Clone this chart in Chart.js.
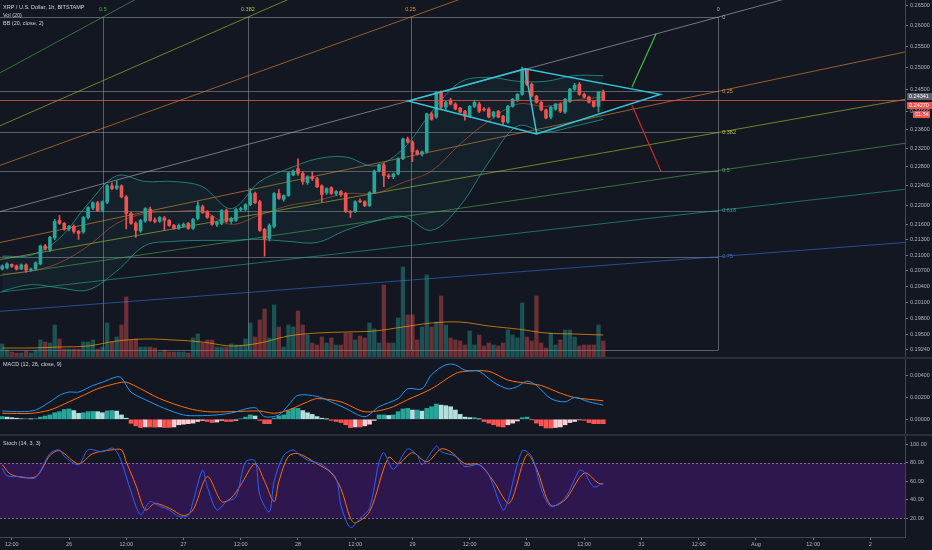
<!DOCTYPE html>
<html>
<head>
<meta charset="utf-8">
<script src="https://cdn.jsdelivr.net/npm/chart.js@4.4.0/dist/chart.umd.min.js"></script>
<style>
  html, body { margin: 0; padding: 0; background: #131722; }
  #wrap { position: relative; width: 932px; height: 550px; overflow: hidden; background: #131722; }
  #wrap canvas { position: absolute; left: 0; }
  .sep { position: absolute; left: 0; width: 932px; height: 2px; background: #2a2e39; }
</style>
</head>
<body>
<div id="wrap">
  <canvas id="priceChart" width="932" height="357" style="top:0"></canvas>
  <div class="sep" style="top:357px"></div>
  <canvas id="macdChart" width="932" height="75" style="top:359px"></canvas>
  <div class="sep" style="top:434px"></div>
  <canvas id="stochChart" width="932" height="114" style="top:436px"></canvas>
</div>
<script>
// hours are counted from Jul 26 00:00, one candle per hour
const firstHour = -14;

const opens = [0.2073, 0.2075, 0.2082, 0.2079, 0.2073, 0.2081, 0.2071, 0.2073, 0.2083, 0.2118,
  0.2111, 0.2134, 0.2169, 0.2163, 0.2152, 0.2157, 0.2147, 0.2146, 0.2175, 0.2194,
  0.2205, 0.2190, 0.2206, 0.2240, 0.2235, 0.2240, 0.2217, 0.2183, 0.2163, 0.2148,
  0.2168, 0.2192, 0.2170, 0.2167, 0.2174, 0.2169, 0.2159, 0.2153, 0.2157, 0.2163,
  0.2153, 0.2173, 0.2197, 0.2187, 0.2177, 0.2161, 0.2163, 0.2189, 0.2167, 0.2169,
  0.2191, 0.2191, 0.2201, 0.2224, 0.2207, 0.2151, 0.2133, 0.2157, 0.2224, 0.2212,
  0.2220, 0.2263, 0.2276, 0.2266, 0.2247, 0.2259, 0.2255, 0.2240, 0.2226, 0.2236,
  0.2224, 0.2228, 0.2224, 0.2187, 0.2187, 0.2209, 0.2207, 0.2199, 0.2226, 0.2271,
  0.2284, 0.2261, 0.2259, 0.2265, 0.2297, 0.2340, 0.2333, 0.2314, 0.2307, 0.2312,
  0.2395, 0.2388, 0.2444, 0.2410, 0.2426, 0.2417, 0.2408, 0.2401, 0.2390, 0.2412,
  0.2417, 0.2406, 0.2406, 0.2390, 0.2401, 0.2390, 0.2377, 0.2412, 0.2426, 0.2439,
  0.2494, 0.2462, 0.2435, 0.2421, 0.2404, 0.2388, 0.2406, 0.2417, 0.2399, 0.2423,
  0.2451, 0.2462, 0.2439, 0.2433, 0.2423, 0.2412, 0.2444];
const highs = [0.2081, 0.2085, 0.2083, 0.2081, 0.2083, 0.2083, 0.2075, 0.2087, 0.2120, 0.2121,
  0.2137, 0.2171, 0.2179, 0.2165, 0.2159, 0.2160, 0.2149, 0.2177, 0.2197, 0.2207,
  0.2208, 0.2209, 0.2243, 0.2246, 0.2251, 0.2242, 0.2220, 0.2186, 0.2166, 0.2171,
  0.2195, 0.2196, 0.2174, 0.2177, 0.2177, 0.2171, 0.2161, 0.2162, 0.2164, 0.2165,
  0.2173, 0.2207, 0.2200, 0.2189, 0.2179, 0.2167, 0.2191, 0.2192, 0.2175, 0.2193,
  0.2196, 0.2203, 0.2234, 0.2227, 0.2210, 0.2153, 0.2162, 0.2226, 0.2232, 0.2221,
  0.2269, 0.2273, 0.2297, 0.2270, 0.2261, 0.2269, 0.2258, 0.2242, 0.2236, 0.2238,
  0.2230, 0.2230, 0.2226, 0.2189, 0.2209, 0.2213, 0.2209, 0.2228, 0.2273, 0.2286,
  0.2288, 0.2265, 0.2267, 0.2299, 0.2342, 0.2344, 0.2336, 0.2316, 0.2314, 0.2397,
  0.2399, 0.2446, 0.2447, 0.2423, 0.2430, 0.2420, 0.2410, 0.2403, 0.2414, 0.2426,
  0.2421, 0.2409, 0.2409, 0.2401, 0.2403, 0.2392, 0.2414, 0.2430, 0.2441, 0.2502,
  0.2497, 0.2465, 0.2437, 0.2423, 0.2406, 0.2412, 0.2419, 0.2420, 0.2430, 0.2453,
  0.2464, 0.2466, 0.2442, 0.2435, 0.2425, 0.2446, 0.2449];
const lows = [0.2071, 0.2073, 0.2076, 0.2071, 0.2072, 0.2067, 0.2069, 0.2071, 0.2081, 0.2110,
  0.2107, 0.2130, 0.2161, 0.2149, 0.2148, 0.2143, 0.2131, 0.2143, 0.2172, 0.2191,
  0.2187, 0.2187, 0.2203, 0.2232, 0.2232, 0.2215, 0.2152, 0.2161, 0.2135, 0.2145,
  0.2165, 0.2167, 0.2164, 0.2165, 0.2149, 0.2157, 0.2151, 0.2151, 0.2155, 0.2151,
  0.2151, 0.2170, 0.2183, 0.2173, 0.2159, 0.2157, 0.2160, 0.2165, 0.2163, 0.2167,
  0.2188, 0.2189, 0.2199, 0.2203, 0.2147, 0.2098, 0.2128, 0.2154, 0.2212, 0.2208,
  0.2218, 0.2261, 0.2262, 0.2243, 0.2243, 0.2251, 0.2236, 0.2207, 0.2222, 0.2222,
  0.2220, 0.2218, 0.2185, 0.2175, 0.2185, 0.2205, 0.2197, 0.2197, 0.2224, 0.2269,
  0.2238, 0.2255, 0.2255, 0.2263, 0.2295, 0.2331, 0.2291, 0.2305, 0.2303, 0.2309,
  0.2381, 0.2385, 0.2407, 0.2405, 0.2415, 0.2404, 0.2397, 0.2381, 0.2387, 0.2409,
  0.2398, 0.2401, 0.2386, 0.2386, 0.2386, 0.2372, 0.2374, 0.2410, 0.2423, 0.2437,
  0.2459, 0.2433, 0.2419, 0.2402, 0.2384, 0.2384, 0.2403, 0.2398, 0.2396, 0.2421,
  0.2448, 0.2437, 0.2431, 0.2419, 0.2410, 0.2399, 0.2425];
const closes = [0.2079, 0.2083, 0.2078, 0.2073, 0.2081, 0.2071, 0.2073, 0.2085, 0.2118, 0.2112,
  0.2135, 0.2167, 0.2163, 0.2151, 0.2157, 0.2147, 0.2143, 0.2175, 0.2195, 0.2205,
  0.2189, 0.2207, 0.2240, 0.2234, 0.2240, 0.2217, 0.2183, 0.2163, 0.2149, 0.2169,
  0.2193, 0.2169, 0.2167, 0.2175, 0.2169, 0.2159, 0.2153, 0.2159, 0.2161, 0.2153,
  0.2171, 0.2199, 0.2185, 0.2175, 0.2161, 0.2165, 0.2189, 0.2167, 0.2173, 0.2191,
  0.2193, 0.2201, 0.2224, 0.2205, 0.2149, 0.2131, 0.2159, 0.2224, 0.2214, 0.2220,
  0.2267, 0.2271, 0.2266, 0.2249, 0.2259, 0.2255, 0.2238, 0.2222, 0.2234, 0.2224,
  0.2228, 0.2222, 0.2187, 0.2185, 0.2207, 0.2207, 0.2199, 0.2226, 0.2271, 0.2284,
  0.2261, 0.2259, 0.2265, 0.2297, 0.2340, 0.2333, 0.2312, 0.2307, 0.2312, 0.2395,
  0.2383, 0.2444, 0.2410, 0.2421, 0.2417, 0.2406, 0.2399, 0.2390, 0.2412, 0.2421,
  0.2401, 0.2404, 0.2388, 0.2399, 0.2388, 0.2377, 0.2412, 0.2428, 0.2439, 0.2496,
  0.2462, 0.2435, 0.2421, 0.2404, 0.2386, 0.2410, 0.2417, 0.2401, 0.2428, 0.2451,
  0.2460, 0.2439, 0.2433, 0.2421, 0.2412, 0.2444, 0.2427];
const volumes = [1.3, 0.7, 0.5, 0.4, 0.4, 0.6, 0.4, 0.7, 1.7, 1.5,
  1.4, 3.2, 1.8, 0.8, 0.8, 0.8, 0.8, 1.5, 1.5, 1.7,
  0.8, 1.0, 3.4, 1.5, 2.0, 3.2, 6.0, 1.7, 1.8, 1.0,
  1.0, 1.0, 0.9, 0.5, 0.7, 0.5, 0.5, 0.5, 0.5, 0.4,
  1.9, 2.3, 1.4, 1.7, 1.7, 1.0, 1.0, 1.0, 1.3, 1.2,
  1.2, 1.8, 3.4, 2.0, 3.7, 4.8, 1.9, 5.2, 3.0, 1.0,
  3.2, 3.0, 4.6, 3.2, 2.2, 1.4, 1.2, 2.0, 1.4, 1.9,
  1.2, 1.2, 2.4, 2.4, 1.7, 2.1, 1.9, 3.4, 2.8, 1.4,
  7.2, 1.4, 1.4, 3.9, 9.0, 4.2, 4.2, 1.7, 3.0, 8.2,
  3.0, 3.5, 6.1, 3.2, 1.9, 1.7, 1.6, 1.2, 2.6, 1.2,
  2.2, 1.1, 1.4, 1.2, 1.1, 1.4, 2.7, 2.2, 1.9, 5.4,
  2.0, 1.6, 6.1, 1.4, 0.9, 2.4, 1.2, 1.7, 2.7, 2.7,
  2.0, 1.1, 1.2, 1.2, 1.2, 3.2, 1.6];
const macdHist = [0.00025, 0.0002, 0.00015, 0.0001, 0.00005, 0.00005, 0.00003, 0.00005, 0.0002, 0.0003,
  0.0004, 0.0006, 0.0007, 0.0009, 0.00095, 0.0008, 0.00055, 0.0006, 0.0007, 0.00072,
  0.0007, 0.0006, 0.00077, 0.0008, 0.00075, 0.0004, 0.0001, -0.00037, -0.0006, -0.00076,
  -0.0007, -0.0007, -0.00072, -0.0007, -0.00075, -0.00075, -0.0007, -0.0005, -0.00045, -0.0004,
  -0.00035, -0.0002, -0.0001, -0.0002, -0.0003, -0.00025, -0.0001, -0.0002, -0.0002, -0.0001,
  0.00005, 0.0002, 0.0004, 0.0003, -0.0001, -0.0004, -0.0004, 0.0001, 0.0003, 0.0004,
  0.0008, 0.001, 0.001, 0.0008, 0.0006, 0.00045, 0.00025, 0.0001, 0.00002, -0.0001,
  -0.0002, -0.0003, -0.0005, -0.00076, -0.0007, -0.0007, -0.0006, -0.00045, -0.0001, 0.0004,
  0.0004, 0.00035, 0.0004, 0.0007, 0.00095, 0.001, 0.00085, 0.00085, 0.00075, 0.001,
  0.00115, 0.0014, 0.0013, 0.00125, 0.00115, 0.00085, 0.00045, 0.0002, 0.00015, 0.00015,
  0.00003, -0.0002, -0.00035, -0.0005, -0.00065, -0.0007, -0.0005, -0.00035, -0.00015, 0.00015,
  0.0002, -0.00002, -0.00035, -0.0006, -0.0008, -0.0008, -0.00075, -0.0007, -0.0005, -0.0003,
  -0.0002, -0.00005, -0.0001, -0.0003, -0.0004, -0.0004, -0.0004];

// Bollinger bands (20, close, 2) and volume MA, read every 6 hours
const bandHours = [-14, -8, -2, 4, 10, 16, 22, 28, 34, 40, 46, 52, 58, 64, 70, 76, 82, 88, 94, 100, 106, 112];
const bbUpper = [0.2098, 0.2100, 0.2133, 0.2203, 0.2261, 0.2249, 0.2249, 0.2238, 0.2193, 0.2249, 0.2276,
  0.2297, 0.2301, 0.2282, 0.2318, 0.2399, 0.2467, 0.2478, 0.2469, 0.2469, 0.2482, 0.2482];
const bbBasis = [0.2063, 0.2069, 0.2085, 0.2118, 0.2163, 0.2183, 0.2187, 0.2187, 0.2161, 0.2180, 0.2199,
  0.2209, 0.2224, 0.2224, 0.2247, 0.2271, 0.2329, 0.2379, 0.2417, 0.2412, 0.2426, 0.2433];
const bbLower = [0.2031, 0.2043, 0.2037, 0.2033, 0.2069, 0.2119, 0.2127, 0.2129, 0.2129, 0.2131, 0.2127,
  0.2125, 0.2149, 0.2167, 0.2177, 0.2149, 0.2199, 0.2290, 0.2368, 0.2355, 0.2368, 0.2383];
const volMa = [0.9, 0.9, 1.0, 1.1, 1.6, 1.8, 1.7, 1.5, 1.1, 1.4, 2.1, 2.4, 2.5, 2.6, 3.0, 3.4, 3.5, 3.1, 2.8, 2.4, 2.3, 2.2];

// MACD (12, 26, close, 9)
const macdHours = [-14, -10, -7, -4, -2, 0, 2, 5, 7, 10, 11, 13, 16, 20, 24, 27, 31, 34, 39, 41,
  44, 46, 48, 52, 55, 58, 62, 65, 69, 71, 74, 76, 79, 81, 83, 86, 89, 92, 94, 96, 98, 101, 104, 106, 109, 112];
const macdLine = [0.00076, 0.0007, 0.00085, 0.0016, 0.0022, 0.0025, 0.0025, 0.0031, 0.0034, 0.0039,
  0.0038, 0.0025, 0.0018, 0.001, 0.0004, 0.00033, 0.0004, 0.00058, 0.00106, 0.00024,
  0.0004, 0.0013, 0.0022, 0.0021, 0.0016, 0.001, 0.00024, 0.00116, 0.0019, 0.0028,
  0.0028, 0.0041, 0.005, 0.005, 0.0045, 0.0044, 0.0034, 0.0028, 0.003, 0.0035,
  0.0031, 0.0019, 0.0016, 0.002, 0.0016, 0.0013];
const signalHours = [-14, -8, -4, 0, 3, 6, 10, 12, 15, 19, 25, 29, 34, 40, 43, 46, 50, 52, 57, 62,
  67, 71, 76, 81, 83, 88, 92, 96, 99, 103, 106, 112];
const signalLine = [0.00055, 0.00055, 0.00085, 0.0016, 0.0022, 0.0028, 0.0033, 0.0034, 0.0028, 0.0019,
  0.001, 0.0007, 0.0007, 0.00076, 0.00055, 0.00085, 0.0016, 0.0019, 0.0016, 0.0007,
  0.001, 0.0018, 0.0028, 0.0042, 0.0044, 0.0044, 0.0036, 0.0033, 0.0031, 0.0024, 0.002, 0.0017];

// Stoch (14, 3, 3)
const kHours = [-14, -13, -10, -7, -4, -2, -1, 2, 4, 7, 9, 10, 11, 13, 15, 17, 19, 21, 23, 25,
  26, 28, 29, 31, 33, 35, 37, 39, 40, 42, 43, 45, 47, 48, 50, 53, 56, 57, 59, 61,
  63, 65, 66, 68, 71, 73, 74, 77, 78, 81, 83, 86, 88, 91, 92, 95, 97, 99, 101, 104,
  107, 108, 110, 112];
const stochK = [74, 66, 65, 64, 90, 94, 87, 78, 94, 92, 96, 92, 81, 49, 24, 38, 33, 29, 22, 23,
  38, 72, 54, 29, 38, 43, 81, 82, 45, 27, 60, 88, 94, 90, 83, 78, 63, 34, 10, 20,
  31, 81, 91, 73, 95, 88, 78, 98, 92, 87, 76, 78, 67, 29, 38, 93, 87, 52, 33, 42,
  72, 70, 54, 58];
const dHours = [-14, -12, -7, -4, -2, 2, 5, 9, 11, 12, 14, 16, 18, 21, 24, 26, 29, 32, 34, 36,
  39, 41, 43, 44, 46, 48, 52, 55, 57, 59, 60, 63, 67, 69, 72, 75, 78, 80, 83, 86,
  89, 92, 93, 96, 98, 101, 104, 108, 111, 112];
const stochD = [78, 67, 65, 88, 93, 79, 90, 94, 94, 81, 56, 29, 36, 31, 23, 29, 65, 38, 42, 56,
  79, 60, 38, 60, 87, 90, 79, 69, 52, 20, 15, 27, 86, 79, 91, 81, 95, 92, 79, 78,
  60, 36, 42, 89, 74, 34, 40, 69, 58, 57];

// right axis and time axis labels
const priceTicks = [0.265, 0.26, 0.255, 0.25, 0.245, 0.24, 0.236, 0.232, 0.228, 0.224, 0.22,
  0.216, 0.213, 0.21, 0.207, 0.204, 0.201, 0.198, 0.195, 0.1924];
const macdTicks = [0, 0.002, 0.004];
const stochTicks = [20, 40, 60, 80, 100];
const timeTickHours = [-12, 0, 12, 24, 36, 48, 60, 72, 84, 96, 108, 120, 132, 144, 156, 168];
const timeTickLabels = ['12:00', '26', '12:00', '27', '12:00', '28', '12:00', '29', '12:00', '30',
  '12:00', '31', '12:00', 'Aug', '12:00', '2'];

// drawings: fib speed resistance fan, diamond, two arrows
const fibLevels = ['0', '0.25', '0.382', '0.5', '0.618', '0.75', '1'];
const fibPrices = [0.2621, 0.2446, 0.2354, 0.2272, 0.2189, 0.2097, 0.1922];
const fibHours = [136.1, 71.6, 37.5, 7.1, -23.3, -57.4, -121.8];
const fibColors = ['#b2b5be', '#e8902e', '#b9c42e', '#4caf50', '#26a69a', '#3471d6', '#9598a1'];
const diamondHours = [71.1, 95.6, 123.9, 98.05];
const diamondPrices = [0.2424, 0.2498, 0.2439, 0.2351];
const upArrowHours = [118.0, 123.1];
const upArrowPrices = [0.2455, 0.2581];
const downArrowHours = [118.0, 124.1];
const downArrowPrices = [0.2415, 0.2270];
const markPrice = 0.24341;
const timeLeft = '01:54';

const xMin = -14.47;
const xMax = 175.26;
const upColor = '#26a69a';
const downColor = '#ef5350';
const fontFamily = '"Liberation Sans", Arial, sans-serif';

Chart.defaults.font.family = fontFamily;
Chart.defaults.font.size = 5.5;
Chart.defaults.color = '#b2b5be';
Chart.defaults.animation = false;
Chart.defaults.plugins.legend.display = false;
Chart.defaults.plugins.tooltip.enabled = false;

const candleHours = opens.map((o, i) => firstHour + i);
const isUp = closes.map((c, i) => c >= opens[i]);
const points = (xs, ys) => xs.map((x, i) => ({ x, y: ys[i] }));

function rightAxis(ticks, min, max, digits, type) {
  return {
    type: type || 'linear',
    position: 'right',
    min,
    max,
    afterFit: (scale) => {
      scale.width = 27;
      scale.paddingTop = 0;
      scale.paddingBottom = 0;
    },
    afterBuildTicks: (scale) => { scale.ticks = ticks.map((v) => ({ value: v })); },
    ticks: {
      autoSkip: false,
      padding: 2,
      color: '#b2b5be',
      callback: (v) => Number(v).toFixed(digits),
    },
    grid: { drawOnChartArea: false, drawTicks: true, tickLength: 3, color: '#787b86' },
    border: { display: true, color: '#434651' },
  };
}

function hiddenX() {
  return { type: 'linear', min: xMin, max: xMax, offset: false, display: false };
}

function text(ctx, str, x, y, color, align) {
  ctx.fillStyle = color;
  ctx.textAlign = align || 'left';
  ctx.textBaseline = 'middle';
  ctx.fillText(str, x, y);
}

function segment(ctx, x1, y1, x2, y2) {
  ctx.beginPath();
  ctx.moveTo(x1, y1);
  ctx.lineTo(x2, y2);
  ctx.stroke();
}

const fanPlugin = {
  id: 'fan',
  beforeDatasetsDraw(chart) {
    const { ctx, chartArea: area, scales: { x, y } } = chart;
    ctx.save();
    ctx.beginPath();
    ctx.rect(area.left, area.top, area.right - area.left, area.bottom - area.top);
    ctx.clip();
    const ox = x.getPixelForValue(fibHours[6]);
    const oy = y.getPixelForValue(fibPrices[6]);
    const rx = x.getPixelForValue(fibHours[0]);
    const ty = y.getPixelForValue(fibPrices[0]);
    ctx.lineWidth = 1;
    ctx.strokeStyle = 'rgba(150,153,162,0.55)';
    fibPrices.forEach((p) => {
      const py = Math.round(y.getPixelForValue(p)) + 0.5;
      segment(ctx, ox, py, rx, py);
    });
    fibHours.forEach((h) => {
      const px = Math.round(x.getPixelForValue(h)) + 0.5;
      segment(ctx, px, ty, px, oy);
    });
    // rays from the fan origin, through the right edge and the top edge
    ctx.globalAlpha = 0.6;
    for (let i = 0; i < 6; i++) {
      ctx.strokeStyle = fibColors[i];
      const py = y.getPixelForValue(fibPrices[i]);
      const far = area.right + 50;
      segment(ctx, ox, oy, far, oy + (py - oy) * (far - ox) / (rx - ox));
      if (i > 0) {
        const px = x.getPixelForValue(fibHours[i]);
        segment(ctx, ox, oy, far, oy + (ty - oy) * (far - ox) / (px - ox));
      }
    }
    ctx.globalAlpha = 1;
    ctx.font = `5.5px ${fontFamily}`;
    for (let i = 0; i < 6; i++) {
      const py = y.getPixelForValue(fibPrices[i]);
      text(ctx, fibLevels[i], rx + 4, py, fibColors[i]);
      if (i < 4) {
        const px = x.getPixelForValue(fibHours[i]);
        text(ctx, fibLevels[i], px, ty - 8, fibColors[i], 'center');
      }
    }
    ctx.restore();
  },
  afterDatasetsDraw(chart) {
    const { ctx, chartArea: area, scales: { x, y } } = chart;
    ctx.save();
    ctx.beginPath();
    ctx.rect(area.left, area.top, area.right - area.left, area.bottom - area.top);
    ctx.clip();
    // last price line
    const lastY = Math.round(y.getPixelForValue(closes[closes.length - 1])) + 0.5;
    ctx.strokeStyle = 'rgba(239,83,80,0.75)';
    ctx.lineWidth = 1;
    segment(ctx, area.left, lastY, area.right, lastY);
    // diamond
    const dp = diamondHours.map((h, i) => [x.getPixelForValue(h), y.getPixelForValue(diamondPrices[i])]);
    ctx.strokeStyle = '#33c6d9';
    ctx.lineWidth = 1.5;
    ctx.beginPath();
    ctx.moveTo(dp[0][0], dp[0][1]);
    for (let i = 1; i < 4; i++) ctx.lineTo(dp[i][0], dp[i][1]);
    ctx.closePath();
    ctx.stroke();
    segment(ctx, dp[1][0], dp[1][1], dp[3][0], dp[3][1]);
    ctx.lineWidth = 1.2;
    ctx.strokeStyle = '#3fbf3f';
    segment(ctx, x.getPixelForValue(upArrowHours[0]), y.getPixelForValue(upArrowPrices[0]),
      x.getPixelForValue(upArrowHours[1]), y.getPixelForValue(upArrowPrices[1]));
    ctx.strokeStyle = '#c62828';
    segment(ctx, x.getPixelForValue(downArrowHours[0]), y.getPixelForValue(downArrowPrices[0]),
      x.getPixelForValue(downArrowHours[1]), y.getPixelForValue(downArrowPrices[1]));
    ctx.restore();
  },
  afterDraw(chart) {
    const { ctx, chartArea: area, scales: { y } } = chart;
    ctx.save();
    ctx.font = `5.5px ${fontFamily}`;
    text(ctx, 'XRP / U.S. Dollar, 1h, BITSTAMP', 3, 7, '#d1d4dc');
    text(ctx, 'Vol (20)', 3, 15, '#d1d4dc');
    text(ctx, 'BB (20, close, 2)', 3, 23, '#d1d4dc');
    // price boxes on the right axis
    const greyY = y.getPixelForValue(markPrice);
    const redY = Math.max(y.getPixelForValue(closes[closes.length - 1]), greyY + 9);
    ctx.fillStyle = '#5d606b';
    ctx.fillRect(area.right + 2, greyY - 3.5, 25, 7);
    text(ctx, markPrice.toFixed(5), area.right + 4, greyY, '#ffffff');
    ctx.fillStyle = downColor;
    ctx.fillRect(area.right + 2, redY - 3.5, 25, 7);
    text(ctx, closes[closes.length - 1].toFixed(5), area.right + 4, redY, '#ffffff');
    ctx.fillStyle = downColor;
    ctx.fillRect(area.right + 8, redY + 5.5, 17, 7);
    text(ctx, timeLeft, area.right + 10, redY + 9, '#ffffff');
    ctx.restore();
  },
};

new Chart(document.getElementById('priceChart'), {
  type: 'bar',
  data: {
    datasets: [
      {
        type: 'bar',
        data: points(candleHours, closes.map((c, i) => [opens[i], c])),
        backgroundColor: isUp.map((u) => (u ? upColor : downColor)),
        barThickness: 3,
        minBarLength: 1,
        grouped: false,
        yAxisID: 'y',
        order: 1,
      },
      {
        type: 'bar',
        data: points(candleHours, lows.map((l, i) => [l, highs[i]])),
        backgroundColor: isUp.map((u) => (u ? upColor : downColor)),
        barThickness: 1,
        grouped: false,
        yAxisID: 'y',
        order: 2,
      },
      {
        type: 'line',
        data: points(bandHours, bbUpper),
        borderColor: 'rgba(38,166,154,0.7)',
        backgroundColor: 'rgba(38,166,154,0.07)',
        borderWidth: 1,
        pointRadius: 0,
        tension: 0.35,
        fill: '+1',
        yAxisID: 'y',
        order: 4,
      },
      {
        type: 'line',
        data: points(bandHours, bbLower),
        borderColor: 'rgba(38,166,154,0.7)',
        borderWidth: 1,
        pointRadius: 0,
        tension: 0.35,
        yAxisID: 'y',
        order: 5,
      },
      {
        type: 'line',
        data: points(bandHours, bbBasis),
        borderColor: 'rgba(230,90,50,0.55)',
        borderWidth: 1,
        pointRadius: 0,
        tension: 0.35,
        yAxisID: 'y',
        order: 4,
      },
      {
        type: 'line',
        data: points(bandHours, volMa),
        borderColor: 'rgba(255,152,0,0.7)',
        borderWidth: 1,
        pointRadius: 0,
        tension: 0.35,
        yAxisID: 'yv',
        order: 6,
      },
      {
        type: 'bar',
        data: points(candleHours, volumes),
        backgroundColor: isUp.map((u) => (u ? 'rgba(38,166,154,0.42)' : 'rgba(239,83,80,0.42)')),
        barThickness: 3.6,
        grouped: false,
        yAxisID: 'yv',
        order: 7,
      },
    ],
  },
  options: {
    responsive: false,
    layout: { padding: 0 },
    scales: {
      x: hiddenX(),
      y: rightAxis(priceTicks, 0.19147, 0.2663, 5, 'logarithmic'),
      yv: { type: 'linear', display: false, min: 0, max: 35.7 },
    },
  },
  plugins: [fanPlugin],
});

const histColors = macdHist.map((v, i) => {
  const prev = i > 0 ? macdHist[i - 1] : v;
  if (v >= 0) return v >= prev ? '#26a69a' : '#b2dfdb';
  return v <= prev ? '#ff5252' : '#ffcdd2';
});

new Chart(document.getElementById('macdChart'), {
  type: 'bar',
  data: {
    datasets: [
      {
        type: 'line',
        data: points(macdHours, macdLine),
        borderColor: '#2196f3',
        borderWidth: 1,
        pointRadius: 0,
        tension: 0.3,
        order: 1,
      },
      {
        type: 'line',
        data: points(signalHours, signalLine),
        borderColor: '#ff6d00',
        borderWidth: 1,
        pointRadius: 0,
        tension: 0.3,
        order: 2,
      },
      {
        type: 'bar',
        data: points(candleHours, macdHist),
        backgroundColor: histColors,
        barThickness: 4,
        grouped: false,
        order: 3,
      },
    ],
  },
  options: {
    responsive: false,
    layout: { padding: 0 },
    scales: {
      x: hiddenX(),
      y: rightAxis(macdTicks, -0.001349, 0.005532, 5),
    },
  },
  plugins: [{
    id: 'macdTitle',
    afterDraw(chart) {
      const { ctx } = chart;
      ctx.save();
      ctx.font = `5.5px ${fontFamily}`;
      text(ctx, 'MACD (12, 26, close, 9)', 3, 5, '#d1d4dc');
      ctx.restore();
    },
  }],
});

new Chart(document.getElementById('stochChart'), {
  type: 'line',
  data: {
    datasets: [
      {
        data: points(kHours, stochK),
        borderColor: '#2962ff',
        borderWidth: 1,
        pointRadius: 0,
        tension: 0.3,
      },
      {
        data: points(dHours, stochD),
        borderColor: '#ff6d00',
        borderWidth: 1,
        pointRadius: 0,
        tension: 0.3,
      },
    ],
  },
  options: {
    responsive: false,
    layout: { padding: 0 },
    scales: {
      x: {
        type: 'linear',
        min: xMin,
        max: xMax,
        offset: false,
        afterFit: (scale) => { scale.height = 13; },
        afterBuildTicks: (scale) => { scale.ticks = timeTickHours.map((v) => ({ value: v })); },
        ticks: {
          autoSkip: false,
          maxRotation: 0,
          padding: 1,
          color: '#b2b5be',
          callback: (v) => timeTickLabels[timeTickHours.indexOf(v)],
        },
        grid: { drawOnChartArea: false, drawTicks: true, tickLength: 3, color: '#787b86' },
        border: { display: true, color: '#434651' },
      },
      y: rightAxis(stochTicks, -0.2, 109, 2),
    },
  },
  plugins: [{
    id: 'stochBand',
    beforeDatasetsDraw(chart) {
      const { ctx, chartArea: area, scales: { y } } = chart;
      const top = y.getPixelForValue(80);
      const bottom = y.getPixelForValue(20);
      ctx.save();
      ctx.fillStyle = 'rgba(153,21,255,0.2)';
      ctx.fillRect(area.left, top, area.right - area.left, bottom - top);
      ctx.strokeStyle = 'rgba(140,130,160,0.8)';
      ctx.lineWidth = 1;
      ctx.setLineDash([2, 2]);
      segment(ctx, area.left, Math.round(top) + 0.5, area.right, Math.round(top) + 0.5);
      segment(ctx, area.left, Math.round(bottom) + 0.5, area.right, Math.round(bottom) + 0.5);
      ctx.restore();
    },
    afterDraw(chart) {
      const { ctx } = chart;
      ctx.save();
      ctx.font = `5.5px ${fontFamily}`;
      text(ctx, 'Stoch (14, 3, 3)', 3, 7, '#d1d4dc');
      ctx.restore();
    },
  }],
});
</script>
</body>
</html>
